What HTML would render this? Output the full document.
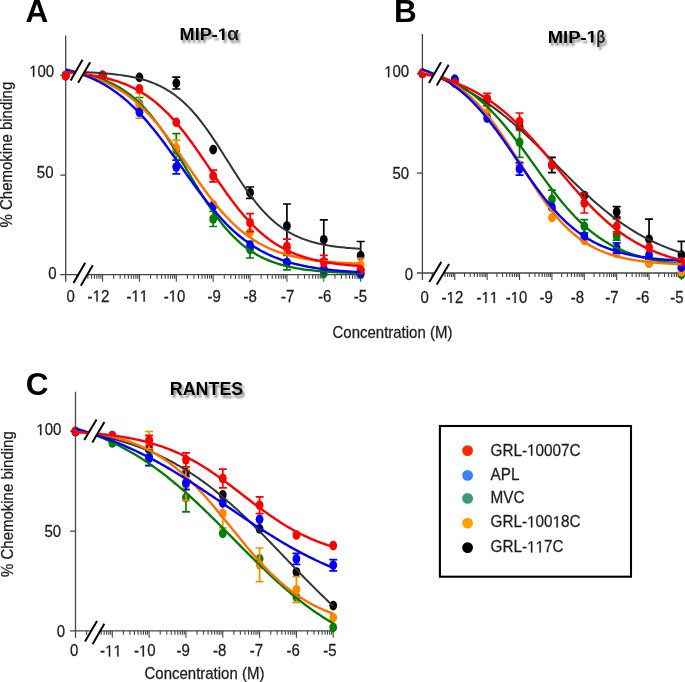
<!DOCTYPE html>
<html><head><meta charset="utf-8"><style>
html,body{margin:0;padding:0;background:#fff;}
svg{display:block;will-change:transform;}
text{font-family:"Liberation Sans",sans-serif;fill:#1e1e1e;}
.tl,.lg,.ax{stroke:#1e1e1e;stroke-width:0.25px;}
.o1 path{fill:#1e1e1e;stroke:#1e1e1e;stroke-width:0.25px;vector-effect:non-scaling-stroke;}
.o1b path{fill:#000;}
.tl{font-size:15px;}
.lg{font-size:15.3px;}
.pl{font-size:31.5px;font-weight:bold;fill:#000;}
.ti{font-size:16.8px;font-weight:bold;fill:#000;}
.ax{font-size:15px;}
</style></head><body>
<svg width="685" height="682" viewBox="0 0 685 682">
<defs><filter id="sh" x="-10%" y="-30%" width="130%" height="170%"><feGaussianBlur in="SourceAlpha" stdDeviation="0.9"/><feOffset dx="1.5" dy="2.5" result="b"/><feFlood flood-color="#000" flood-opacity="0.45"/><feComposite in2="b" operator="in"/><feMerge><feMergeNode/><feMergeNode in="SourceGraphic"/></feMerge></filter></defs>
<rect width="685" height="682" fill="#fff"/>
<path d="M65.7,35.5V281.7M60.2,274.7H360.9" stroke="#464646" stroke-width="1.3" fill="none"/>
<path d="M60.2,75.3h5.5M60.2,175.2h5.5" stroke="#464646" stroke-width="1.3"/>
<path d="M76.80,274.7v4.0M83.29,274.7v4.0M87.90,274.7v4.0M91.47,274.7v4.0M94.39,274.7v4.0M96.86,274.7v4.0M99.00,274.7v4.0M100.88,274.7v4.0M102.57,274.7v7.0M113.67,274.7v4.0M120.16,274.7v4.0M124.77,274.7v4.0M128.34,274.7v4.0M131.26,274.7v4.0M133.73,274.7v4.0M135.87,274.7v4.0M137.75,274.7v4.0M139.44,274.7v7.0M150.54,274.7v4.0M157.03,274.7v4.0M161.64,274.7v4.0M165.21,274.7v4.0M168.13,274.7v4.0M170.60,274.7v4.0M172.74,274.7v4.0M174.62,274.7v4.0M176.31,274.7v7.0M187.41,274.7v4.0M193.90,274.7v4.0M198.51,274.7v4.0M202.08,274.7v4.0M205.00,274.7v4.0M207.47,274.7v4.0M209.61,274.7v4.0M211.49,274.7v4.0M213.18,274.7v7.0M224.28,274.7v4.0M230.77,274.7v4.0M235.38,274.7v4.0M238.95,274.7v4.0M241.87,274.7v4.0M244.34,274.7v4.0M246.48,274.7v4.0M248.36,274.7v4.0M250.05,274.7v7.0M261.15,274.7v4.0M267.64,274.7v4.0M272.25,274.7v4.0M275.82,274.7v4.0M278.74,274.7v4.0M281.21,274.7v4.0M283.35,274.7v4.0M285.23,274.7v4.0M286.92,274.7v7.0M298.02,274.7v4.0M304.51,274.7v4.0M309.12,274.7v4.0M312.69,274.7v4.0M315.61,274.7v4.0M318.08,274.7v4.0M320.22,274.7v4.0M322.10,274.7v4.0M323.79,274.7v7.0M334.89,274.7v4.0M341.38,274.7v4.0M345.99,274.7v4.0M349.56,274.7v4.0M352.48,274.7v4.0M354.95,274.7v4.0M357.09,274.7v4.0M358.97,274.7v4.0M360.66,274.7v7.0" stroke="#464646" stroke-width="1.1" fill="none"/>
<ellipse cx="65.70" cy="75.60" rx="3.9" ry="4.8" fill="#000000"/>
<ellipse cx="102.57" cy="75.40" rx="3.9" ry="4.8" fill="#000000"/>
<ellipse cx="139.44" cy="77.40" rx="3.9" ry="4.8" fill="#000000"/>
<path d="M176.31,77.20V89.00M172.31,77.20h8M172.31,89.00h8" stroke="#000000" stroke-width="1.7" fill="none"/>
<ellipse cx="176.31" cy="83.10" rx="3.9" ry="4.8" fill="#000000"/>
<ellipse cx="213.18" cy="149.60" rx="3.9" ry="4.8" fill="#000000"/>
<path d="M250.05,187.00V198.40M246.05,187.00h8M246.05,198.40h8" stroke="#000000" stroke-width="1.7" fill="none"/>
<ellipse cx="250.05" cy="192.70" rx="3.9" ry="4.8" fill="#000000"/>
<path d="M286.92,204.00V248.00M282.92,204.00h8M282.92,248.00h8" stroke="#000000" stroke-width="1.7" fill="none"/>
<ellipse cx="286.92" cy="226.00" rx="3.9" ry="4.8" fill="#000000"/>
<path d="M323.79,219.90V259.50M319.79,219.90h8M319.79,259.50h8" stroke="#000000" stroke-width="1.7" fill="none"/>
<ellipse cx="323.79" cy="239.70" rx="3.9" ry="4.8" fill="#000000"/>
<path d="M360.66,241.50V269.70M356.66,241.50h8M356.66,269.70h8" stroke="#000000" stroke-width="1.7" fill="none"/>
<ellipse cx="360.66" cy="255.60" rx="3.9" ry="4.8" fill="#000000"/>
<ellipse cx="65.70" cy="75.60" rx="3.9" ry="4.8" fill="#008000"/>
<ellipse cx="102.57" cy="76.00" rx="3.9" ry="4.8" fill="#008000"/>
<path d="M139.44,97.50V110.50M135.44,97.50h8M135.44,110.50h8" stroke="#008000" stroke-width="1.7" fill="none"/>
<ellipse cx="139.44" cy="104.00" rx="3.9" ry="4.8" fill="#008000"/>
<path d="M176.31,133.70V166.30M172.31,133.70h8M172.31,166.30h8" stroke="#008000" stroke-width="1.7" fill="none"/>
<ellipse cx="176.31" cy="150.00" rx="3.9" ry="4.8" fill="#008000"/>
<path d="M213.18,211.50V226.50M209.18,211.50h8M209.18,226.50h8" stroke="#008000" stroke-width="1.7" fill="none"/>
<ellipse cx="213.18" cy="219.00" rx="3.9" ry="4.8" fill="#008000"/>
<path d="M250.05,241.00V258.00M246.05,241.00h8M246.05,258.00h8" stroke="#008000" stroke-width="1.7" fill="none"/>
<ellipse cx="250.05" cy="249.50" rx="3.9" ry="4.8" fill="#008000"/>
<path d="M286.92,255.40V269.80M282.92,255.40h8M282.92,269.80h8" stroke="#008000" stroke-width="1.7" fill="none"/>
<ellipse cx="286.92" cy="262.60" rx="3.9" ry="4.8" fill="#008000"/>
<ellipse cx="323.79" cy="273.50" rx="3.9" ry="4.8" fill="#008000"/>
<ellipse cx="360.66" cy="274.50" rx="3.9" ry="4.8" fill="#008000"/>
<ellipse cx="65.70" cy="75.60" rx="3.9" ry="4.8" fill="#ff8c00"/>
<ellipse cx="102.57" cy="76.00" rx="3.9" ry="4.8" fill="#ff8c00"/>
<path d="M139.44,92.85V118.15M135.44,92.85h8M135.44,118.15h8" stroke="#ff8c00" stroke-width="1.7" fill="none"/>
<ellipse cx="139.44" cy="105.50" rx="3.9" ry="4.8" fill="#ff8c00"/>
<path d="M176.31,140.10V155.70M172.31,140.10h8M172.31,155.70h8" stroke="#ff8c00" stroke-width="1.7" fill="none"/>
<ellipse cx="176.31" cy="147.90" rx="3.9" ry="4.8" fill="#ff8c00"/>
<ellipse cx="213.18" cy="204.50" rx="3.9" ry="4.8" fill="#ff8c00"/>
<ellipse cx="250.05" cy="232.30" rx="3.9" ry="4.8" fill="#ff8c00"/>
<ellipse cx="286.92" cy="250.00" rx="3.9" ry="4.8" fill="#ff8c00"/>
<ellipse cx="323.79" cy="264.00" rx="3.9" ry="4.8" fill="#ff8c00"/>
<path d="M360.66,258.30V271.30M356.66,258.30h8M356.66,271.30h8" stroke="#ff8c00" stroke-width="1.7" fill="none"/>
<ellipse cx="360.66" cy="264.80" rx="3.9" ry="4.8" fill="#ff8c00"/>
<ellipse cx="65.70" cy="75.60" rx="3.9" ry="4.8" fill="#0000ff"/>
<ellipse cx="102.57" cy="76.00" rx="3.9" ry="4.8" fill="#0000ff"/>
<ellipse cx="139.44" cy="112.30" rx="3.9" ry="4.8" fill="#0000ff"/>
<path d="M176.31,160.20V173.80M172.31,160.20h8M172.31,173.80h8" stroke="#0000ff" stroke-width="1.7" fill="none"/>
<ellipse cx="176.31" cy="167.00" rx="3.9" ry="4.8" fill="#0000ff"/>
<ellipse cx="213.18" cy="206.20" rx="3.9" ry="4.8" fill="#0000ff"/>
<ellipse cx="250.05" cy="245.50" rx="3.9" ry="4.8" fill="#0000ff"/>
<ellipse cx="286.92" cy="262.50" rx="3.9" ry="4.8" fill="#0000ff"/>
<ellipse cx="323.79" cy="269.50" rx="3.9" ry="4.8" fill="#0000ff"/>
<ellipse cx="360.66" cy="273.30" rx="3.9" ry="4.8" fill="#0000ff"/>
<ellipse cx="65.70" cy="75.60" rx="3.9" ry="4.8" fill="#ff0000"/>
<ellipse cx="102.57" cy="75.20" rx="3.9" ry="4.8" fill="#ff0000"/>
<ellipse cx="139.44" cy="88.90" rx="3.9" ry="4.8" fill="#ff0000"/>
<ellipse cx="176.31" cy="122.30" rx="3.9" ry="4.8" fill="#ff0000"/>
<path d="M213.18,170.20V181.80M209.18,170.20h8M209.18,181.80h8" stroke="#ff0000" stroke-width="1.7" fill="none"/>
<ellipse cx="213.18" cy="176.00" rx="3.9" ry="4.8" fill="#ff0000"/>
<path d="M250.05,213.70V231.70M246.05,213.70h8M246.05,231.70h8" stroke="#ff0000" stroke-width="1.7" fill="none"/>
<ellipse cx="250.05" cy="222.70" rx="3.9" ry="4.8" fill="#ff0000"/>
<path d="M286.92,239.10V253.70M282.92,239.10h8M282.92,253.70h8" stroke="#ff0000" stroke-width="1.7" fill="none"/>
<ellipse cx="286.92" cy="246.40" rx="3.9" ry="4.8" fill="#ff0000"/>
<path d="M323.79,255.30V268.30M319.79,255.30h8M319.79,268.30h8" stroke="#ff0000" stroke-width="1.7" fill="none"/>
<ellipse cx="323.79" cy="261.80" rx="3.9" ry="4.8" fill="#ff0000"/>
<ellipse cx="360.66" cy="270.00" rx="3.9" ry="4.8" fill="#ff0000"/>
<path d="M65.70,71.66 L67.56,71.70 L69.41,71.74 L71.27,71.78 L73.12,71.83 L74.98,71.88 L76.83,71.93 L78.69,71.99 L80.54,72.05 L82.40,72.12 L84.25,72.19 L86.11,72.26 L87.96,72.34 L89.82,72.43 L91.67,72.52 L93.53,72.61 L95.38,72.72 L97.24,72.83 L99.09,72.94 L100.95,73.07 L102.80,73.20 L104.66,73.34 L106.51,73.50 L108.37,73.66 L110.22,73.83 L112.08,74.01 L113.93,74.21 L115.79,74.42 L117.64,74.64 L119.50,74.88 L121.35,75.13 L123.21,75.40 L125.06,75.69 L126.92,75.99 L128.77,76.31 L130.63,76.66 L132.48,77.03 L134.34,77.42 L136.19,77.83 L138.05,78.27 L139.90,78.74 L141.76,79.24 L143.61,79.77 L145.47,80.33 L147.32,80.92 L149.18,81.55 L151.03,82.22 L152.89,82.93 L154.74,83.68 L156.60,84.48 L158.45,85.32 L160.31,86.20 L162.16,87.14 L164.02,88.13 L165.88,89.17 L167.73,90.27 L169.59,91.43 L171.44,92.65 L173.30,93.93 L175.15,95.28 L177.01,96.69 L178.86,98.17 L180.72,99.72 L182.57,101.34 L184.43,103.03 L186.28,104.80 L188.14,106.64 L189.99,108.56 L191.85,110.55 L193.70,112.61 L195.56,114.75 L197.41,116.96 L199.27,119.25 L201.12,121.60 L202.98,124.03 L204.83,126.52 L206.69,129.07 L208.54,131.69 L210.40,134.36 L212.25,137.08 L214.11,139.85 L215.96,142.66 L217.82,145.52 L219.67,148.40 L221.53,151.31 L223.38,154.24 L225.24,157.18 L227.09,160.13 L228.95,163.08 L230.80,166.03 L232.66,168.96 L234.51,171.88 L236.37,174.78 L238.22,177.64 L240.08,180.47 L241.93,183.26 L243.79,186.00 L245.64,188.69 L247.50,191.33 L249.35,193.91 L251.21,196.42 L253.06,198.87 L254.92,201.26 L256.77,203.57 L258.63,205.81 L260.48,207.98 L262.34,210.08 L264.20,212.10 L266.05,214.04 L267.91,215.91 L269.76,217.71 L271.62,219.43 L273.47,221.08 L275.33,222.66 L277.18,224.17 L279.04,225.61 L280.89,226.98 L282.75,228.28 L284.60,229.53 L286.46,230.71 L288.31,231.83 L290.17,232.90 L292.02,233.91 L293.88,234.87 L295.73,235.78 L297.59,236.63 L299.44,237.45 L301.30,238.21 L303.15,238.94 L305.01,239.62 L306.86,240.27 L308.72,240.88 L310.57,241.45 L312.43,241.99 L314.28,242.50 L316.14,242.98 L317.99,243.43 L319.85,243.86 L321.70,244.26 L323.56,244.64 L325.41,244.99 L327.27,245.32 L329.12,245.63 L330.98,245.93 L332.83,246.20 L334.69,246.46 L336.54,246.71 L338.40,246.93 L340.25,247.15 L342.11,247.35 L343.96,247.54 L345.82,247.71 L347.67,247.88 L349.53,248.04 L351.38,248.18 L353.24,248.32 L355.09,248.45 L356.95,248.57 L358.80,248.68 L360.66,248.79" fill="none" stroke="#333333" stroke-width="2.0"/>
<path d="M65.70,71.33 L67.56,71.56 L69.41,71.80 L71.27,72.06 L73.12,72.33 L74.98,72.62 L76.83,72.93 L78.69,73.25 L80.54,73.60 L82.40,73.96 L84.25,74.35 L86.11,74.75 L87.96,75.19 L89.82,75.64 L91.67,76.13 L93.53,76.64 L95.38,77.18 L97.24,77.75 L99.09,78.35 L100.95,78.99 L102.80,79.66 L104.66,80.37 L106.51,81.12 L108.37,81.91 L110.22,82.75 L112.08,83.62 L113.93,84.55 L115.79,85.52 L117.64,86.54 L119.50,87.61 L121.35,88.74 L123.21,89.93 L125.06,91.17 L126.92,92.47 L128.77,93.83 L130.63,95.26 L132.48,96.75 L134.34,98.31 L136.19,99.94 L138.05,101.64 L139.90,103.40 L141.76,105.24 L143.61,107.16 L145.47,109.14 L147.32,111.20 L149.18,113.33 L151.03,115.54 L152.89,117.82 L154.74,120.17 L156.60,122.59 L158.45,125.09 L160.31,127.65 L162.16,130.28 L164.02,132.97 L165.88,135.72 L167.73,138.53 L169.59,141.39 L171.44,144.30 L173.30,147.26 L175.15,150.26 L177.01,153.30 L178.86,156.37 L180.72,159.46 L182.57,162.58 L184.43,165.71 L186.28,168.85 L188.14,171.99 L189.99,175.13 L191.85,178.26 L193.70,181.38 L195.56,184.48 L197.41,187.55 L199.27,190.60 L201.12,193.60 L202.98,196.57 L204.83,199.49 L206.69,202.36 L208.54,205.18 L210.40,207.94 L212.25,210.65 L214.11,213.28 L215.96,215.86 L217.82,218.36 L219.67,220.80 L221.53,223.16 L223.38,225.45 L225.24,227.67 L227.09,229.82 L228.95,231.89 L230.80,233.89 L232.66,235.81 L234.51,237.67 L236.37,239.45 L238.22,241.15 L240.08,242.79 L241.93,244.36 L243.79,245.87 L245.64,247.31 L247.50,248.68 L249.35,249.99 L251.21,251.25 L253.06,252.44 L254.92,253.58 L256.77,254.66 L258.63,255.69 L260.48,256.67 L262.34,257.61 L264.20,258.49 L266.05,259.33 L267.91,260.13 L269.76,260.88 L271.62,261.60 L273.47,262.28 L275.33,262.92 L277.18,263.53 L279.04,264.11 L280.89,264.65 L282.75,265.17 L284.60,265.66 L286.46,266.12 L288.31,266.56 L290.17,266.97 L292.02,267.36 L293.88,267.73 L295.73,268.07 L297.59,268.40 L299.44,268.71 L301.30,269.00 L303.15,269.28 L305.01,269.54 L306.86,269.78 L308.72,270.01 L310.57,270.23 L312.43,270.44 L314.28,270.63 L316.14,270.81 L317.99,270.98 L319.85,271.15 L321.70,271.30 L323.56,271.44 L325.41,271.58 L327.27,271.71 L329.12,271.83 L330.98,271.94 L332.83,272.05 L334.69,272.15 L336.54,272.24 L338.40,272.33 L340.25,272.41 L342.11,272.49 L343.96,272.57 L345.82,272.64 L347.67,272.70 L349.53,272.77 L351.38,272.82 L353.24,272.88 L355.09,272.93 L356.95,272.98 L358.80,273.03 L360.66,273.07" fill="none" stroke="#007a00" stroke-width="2.3"/>
<path d="M65.70,71.46 L67.56,71.76 L69.41,72.07 L71.27,72.40 L73.12,72.74 L74.98,73.10 L76.83,73.48 L78.69,73.89 L80.54,74.31 L82.40,74.75 L84.25,75.22 L86.11,75.71 L87.96,76.22 L89.82,76.76 L91.67,77.33 L93.53,77.92 L95.38,78.54 L97.24,79.20 L99.09,79.88 L100.95,80.60 L102.80,81.35 L104.66,82.14 L106.51,82.97 L108.37,83.83 L110.22,84.73 L112.08,85.68 L113.93,86.66 L115.79,87.69 L117.64,88.76 L119.50,89.88 L121.35,91.05 L123.21,92.26 L125.06,93.52 L126.92,94.84 L128.77,96.21 L130.63,97.63 L132.48,99.10 L134.34,100.63 L136.19,102.21 L138.05,103.85 L139.90,105.54 L141.76,107.29 L143.61,109.10 L145.47,110.96 L147.32,112.88 L149.18,114.86 L151.03,116.89 L152.89,118.98 L154.74,121.12 L156.60,123.31 L158.45,125.55 L160.31,127.85 L162.16,130.19 L164.02,132.57 L165.88,135.00 L167.73,137.47 L169.59,139.98 L171.44,142.53 L173.30,145.10 L175.15,147.71 L177.01,150.34 L178.86,152.99 L180.72,155.66 L182.57,158.34 L184.43,161.04 L186.28,163.74 L188.14,166.44 L189.99,169.15 L191.85,171.84 L193.70,174.53 L195.56,177.21 L197.41,179.86 L199.27,182.50 L201.12,185.11 L202.98,187.70 L204.83,190.25 L206.69,192.77 L208.54,195.25 L210.40,197.69 L212.25,200.09 L214.11,202.44 L215.96,204.75 L217.82,207.01 L219.67,209.22 L221.53,211.37 L223.38,213.47 L225.24,215.52 L227.09,217.51 L228.95,219.45 L230.80,221.33 L232.66,223.15 L234.51,224.92 L236.37,226.63 L238.22,228.28 L240.08,229.88 L241.93,231.42 L243.79,232.91 L245.64,234.34 L247.50,235.73 L249.35,237.05 L251.21,238.33 L253.06,239.56 L254.92,240.74 L256.77,241.87 L258.63,242.96 L260.48,244.00 L262.34,245.00 L264.20,245.95 L266.05,246.86 L267.91,247.74 L269.76,248.57 L271.62,249.37 L273.47,250.13 L275.33,250.86 L277.18,251.56 L279.04,252.22 L280.89,252.85 L282.75,253.45 L284.60,254.03 L286.46,254.57 L288.31,255.10 L290.17,255.59 L292.02,256.06 L293.88,256.51 L295.73,256.94 L297.59,257.35 L299.44,257.74 L301.30,258.10 L303.15,258.45 L305.01,258.79 L306.86,259.10 L308.72,259.40 L310.57,259.69 L312.43,259.96 L314.28,260.21 L316.14,260.46 L317.99,260.69 L319.85,260.91 L321.70,261.12 L323.56,261.32 L325.41,261.51 L327.27,261.68 L329.12,261.85 L330.98,262.01 L332.83,262.17 L334.69,262.31 L336.54,262.45 L338.40,262.58 L340.25,262.70 L342.11,262.82 L343.96,262.93 L345.82,263.03 L347.67,263.13 L349.53,263.23 L351.38,263.32 L353.24,263.40 L355.09,263.48 L356.95,263.56 L358.80,263.63 L360.66,263.70" fill="none" stroke="#ff6f00" stroke-width="2.4"/>
<path d="M65.70,69.55 L67.56,70.01 L69.41,70.49 L71.27,70.99 L73.12,71.52 L74.98,72.07 L76.83,72.64 L78.69,73.24 L80.54,73.86 L82.40,74.52 L84.25,75.20 L86.11,75.91 L87.96,76.65 L89.82,77.42 L91.67,78.22 L93.53,79.06 L95.38,79.93 L97.24,80.83 L99.09,81.78 L100.95,82.76 L102.80,83.78 L104.66,84.83 L106.51,85.93 L108.37,87.07 L110.22,88.26 L112.08,89.48 L113.93,90.75 L115.79,92.07 L117.64,93.43 L119.50,94.84 L121.35,96.29 L123.21,97.80 L125.06,99.35 L126.92,100.95 L128.77,102.60 L130.63,104.30 L132.48,106.05 L134.34,107.85 L136.19,109.70 L138.05,111.59 L139.90,113.54 L141.76,115.53 L143.61,117.57 L145.47,119.66 L147.32,121.79 L149.18,123.97 L151.03,126.19 L152.89,128.46 L154.74,130.76 L156.60,133.10 L158.45,135.48 L160.31,137.89 L162.16,140.34 L164.02,142.81 L165.88,145.32 L167.73,147.84 L169.59,150.40 L171.44,152.96 L173.30,155.55 L175.15,158.15 L177.01,160.76 L178.86,163.38 L180.72,166.00 L182.57,168.62 L184.43,171.24 L186.28,173.86 L188.14,176.47 L189.99,179.07 L191.85,181.65 L193.70,184.21 L195.56,186.76 L197.41,189.28 L199.27,191.78 L201.12,194.24 L202.98,196.68 L204.83,199.08 L206.69,201.45 L208.54,203.79 L210.40,206.08 L212.25,208.33 L214.11,210.54 L215.96,212.71 L217.82,214.83 L219.67,216.91 L221.53,218.94 L223.38,220.92 L225.24,222.85 L227.09,224.73 L228.95,226.57 L230.80,228.35 L232.66,230.09 L234.51,231.78 L236.37,233.41 L238.22,235.00 L240.08,236.54 L241.93,238.03 L243.79,239.48 L245.64,240.87 L247.50,242.22 L249.35,243.53 L251.21,244.78 L253.06,246.00 L254.92,247.17 L256.77,248.30 L258.63,249.39 L260.48,250.44 L262.34,251.45 L264.20,252.42 L266.05,253.35 L267.91,254.25 L269.76,255.11 L271.62,255.94 L273.47,256.73 L275.33,257.49 L277.18,258.23 L279.04,258.93 L280.89,259.60 L282.75,260.25 L284.60,260.86 L286.46,261.46 L288.31,262.02 L290.17,262.57 L292.02,263.09 L293.88,263.58 L295.73,264.06 L297.59,264.51 L299.44,264.95 L301.30,265.36 L303.15,265.76 L305.01,266.14 L306.86,266.51 L308.72,266.85 L310.57,267.18 L312.43,267.50 L314.28,267.80 L316.14,268.09 L317.99,268.37 L319.85,268.63 L321.70,268.88 L323.56,269.12 L325.41,269.35 L327.27,269.57 L329.12,269.78 L330.98,269.98 L332.83,270.17 L334.69,270.35 L336.54,270.52 L338.40,270.68 L340.25,270.84 L342.11,270.99 L343.96,271.13 L345.82,271.27 L347.67,271.40 L349.53,271.52 L351.38,271.64 L353.24,271.75 L355.09,271.86 L356.95,271.96 L358.80,272.06 L360.66,272.15" fill="none" stroke="#0000ff" stroke-width="2.4"/>
<path d="M65.70,72.27 L67.56,72.41 L69.41,72.57 L71.27,72.73 L73.12,72.91 L74.98,73.09 L76.83,73.28 L78.69,73.49 L80.54,73.70 L82.40,73.93 L84.25,74.17 L86.11,74.42 L87.96,74.68 L89.82,74.96 L91.67,75.26 L93.53,75.57 L95.38,75.90 L97.24,76.24 L99.09,76.60 L100.95,76.99 L102.80,77.39 L104.66,77.81 L106.51,78.26 L108.37,78.73 L110.22,79.22 L112.08,79.74 L113.93,80.29 L115.79,80.86 L117.64,81.46 L119.50,82.09 L121.35,82.76 L123.21,83.45 L125.06,84.18 L126.92,84.95 L128.77,85.75 L130.63,86.59 L132.48,87.48 L134.34,88.40 L136.19,89.36 L138.05,90.37 L139.90,91.42 L141.76,92.52 L143.61,93.67 L145.47,94.87 L147.32,96.11 L149.18,97.41 L151.03,98.77 L152.89,100.17 L154.74,101.64 L156.60,103.15 L158.45,104.73 L160.31,106.36 L162.16,108.05 L164.02,109.80 L165.88,111.61 L167.73,113.47 L169.59,115.40 L171.44,117.38 L173.30,119.42 L175.15,121.52 L177.01,123.68 L178.86,125.89 L180.72,128.15 L182.57,130.47 L184.43,132.84 L186.28,135.25 L188.14,137.71 L189.99,140.22 L191.85,142.76 L193.70,145.35 L195.56,147.96 L197.41,150.61 L199.27,153.29 L201.12,155.98 L202.98,158.70 L204.83,161.44 L206.69,164.18 L208.54,166.93 L210.40,169.69 L212.25,172.44 L214.11,175.19 L215.96,177.93 L217.82,180.66 L219.67,183.36 L221.53,186.05 L223.38,188.71 L225.24,191.34 L227.09,193.94 L228.95,196.50 L230.80,199.03 L232.66,201.51 L234.51,203.94 L236.37,206.33 L238.22,208.67 L240.08,210.96 L241.93,213.19 L243.79,215.37 L245.64,217.50 L247.50,219.57 L249.35,221.58 L251.21,223.53 L253.06,225.42 L254.92,227.26 L256.77,229.03 L258.63,230.75 L260.48,232.41 L262.34,234.01 L264.20,235.55 L266.05,237.04 L267.91,238.47 L269.76,239.84 L271.62,241.17 L273.47,242.44 L275.33,243.66 L277.18,244.83 L279.04,245.95 L280.89,247.02 L282.75,248.05 L284.60,249.03 L286.46,249.97 L288.31,250.87 L290.17,251.73 L292.02,252.55 L293.88,253.33 L295.73,254.08 L297.59,254.79 L299.44,255.47 L301.30,256.12 L303.15,256.73 L305.01,257.32 L306.86,257.87 L308.72,258.40 L310.57,258.91 L312.43,259.39 L314.28,259.85 L316.14,260.28 L317.99,260.69 L319.85,261.08 L321.70,261.45 L323.56,261.81 L325.41,262.14 L327.27,262.46 L329.12,262.76 L330.98,263.05 L332.83,263.32 L334.69,263.58 L336.54,263.82 L338.40,264.06 L340.25,264.28 L342.11,264.48 L343.96,264.68 L345.82,264.87 L347.67,265.05 L349.53,265.22 L351.38,265.37 L353.24,265.53 L355.09,265.67 L356.95,265.80 L358.80,265.93 L360.66,266.05" fill="none" stroke="#ff0000" stroke-width="2.4"/>
<polygon points="70.7,80.5 82.5,59.7 90.2,62.3 78.1,82.8" fill="#fff"/>
<line x1="70.7" y1="80.5" x2="82.5" y2="59.7" stroke="#000" stroke-width="2"/>
<line x1="78.1" y1="82.8" x2="90.2" y2="62.3" stroke="#000" stroke-width="2"/>
<polygon points="73.5,283.1 85.2,262.7 92.8,265.2 80.8,285.7" fill="#fff"/>
<line x1="73.5" y1="283.1" x2="85.2" y2="262.7" stroke="#000" stroke-width="2"/>
<line x1="80.8" y1="285.7" x2="92.8" y2="265.2" stroke="#000" stroke-width="2"/>
<text transform="translate(66.6,301.5) scale(1,1.06)" class="tl">0</text>
<text transform="translate(87.6,301.5) scale(1,1.06)" class="tl">- 2</text><g class="o1" transform="translate(87.6,301.5) scale(1,1.06)"><path d="M696,0L515,0L515,1237L197,1010L197,1180L530,1409L696,1409Z" transform="translate(4.99,0.00) scale(0.00732,-0.00732)"/></g>
<text transform="translate(126.4,301.5) scale(1,1.06)" class="tl">-  </text><g class="o1" transform="translate(126.4,301.5) scale(1,1.06)"><path d="M696,0L515,0L515,1237L197,1010L197,1180L530,1409L696,1409Z" transform="translate(4.99,0.00) scale(0.00732,-0.00732)"/><path d="M696,0L515,0L515,1237L197,1010L197,1180L530,1409L696,1409Z" transform="translate(13.31,0.00) scale(0.00732,-0.00732)"/></g>
<text transform="translate(163.7,301.5) scale(1,1.06)" class="tl">- 0</text><g class="o1" transform="translate(163.7,301.5) scale(1,1.06)"><path d="M696,0L515,0L515,1237L197,1010L197,1180L530,1409L696,1409Z" transform="translate(4.99,0.00) scale(0.00732,-0.00732)"/></g>
<text transform="translate(207.5,301.5) scale(1,1.06)" class="tl">-9</text>
<text transform="translate(243.4,301.5) scale(1,1.06)" class="tl">-8</text>
<text transform="translate(281.1,301.5) scale(1,1.06)" class="tl">-7</text>
<text transform="translate(317.9,301.5) scale(1,1.06)" class="tl">-6</text>
<text transform="translate(353.7,301.5) scale(1,1.06)" class="tl">-5</text>
<text transform="translate(54.2,76.8) scale(1,1.06)" class="tl" text-anchor="end"> 00</text><g class="o1" transform="translate(54.2,76.8) scale(1,1.06)"><path d="M696,0L515,0L515,1237L197,1010L197,1180L530,1409L696,1409Z" transform="translate(-25.00,0.00) scale(0.00732,-0.00732)"/></g>
<text transform="translate(53.5,178.4) scale(1,1.06)" class="tl" text-anchor="end">50</text>
<text transform="translate(56.5,278.8) scale(1,1.06)" class="tl" text-anchor="end">0</text>
<path d="M422.4,33.9V280.0M416.9,273.0H681.8" stroke="#464646" stroke-width="1.3" fill="none"/>
<path d="M416.9,73.5h5.5M416.9,173.2h5.5" stroke="#464646" stroke-width="1.3"/>
<path d="M432.15,273.0v4.0M437.85,273.0v4.0M441.89,273.0v4.0M445.03,273.0v4.0M447.60,273.0v4.0M449.76,273.0v4.0M451.64,273.0v4.0M453.30,273.0v4.0M454.78,273.0v7.0M464.53,273.0v4.0M470.23,273.0v4.0M474.27,273.0v4.0M477.41,273.0v4.0M479.98,273.0v4.0M482.14,273.0v4.0M484.02,273.0v4.0M485.68,273.0v4.0M487.16,273.0v7.0M496.91,273.0v4.0M502.61,273.0v4.0M506.65,273.0v4.0M509.79,273.0v4.0M512.36,273.0v4.0M514.52,273.0v4.0M516.40,273.0v4.0M518.06,273.0v4.0M519.54,273.0v7.0M529.29,273.0v4.0M534.99,273.0v4.0M539.03,273.0v4.0M542.17,273.0v4.0M544.74,273.0v4.0M546.90,273.0v4.0M548.78,273.0v4.0M550.44,273.0v4.0M551.92,273.0v7.0M561.67,273.0v4.0M567.37,273.0v4.0M571.41,273.0v4.0M574.55,273.0v4.0M577.12,273.0v4.0M579.28,273.0v4.0M581.16,273.0v4.0M582.82,273.0v4.0M584.30,273.0v7.0M594.05,273.0v4.0M599.75,273.0v4.0M603.79,273.0v4.0M606.93,273.0v4.0M609.50,273.0v4.0M611.66,273.0v4.0M613.54,273.0v4.0M615.20,273.0v4.0M616.68,273.0v7.0M626.43,273.0v4.0M632.13,273.0v4.0M636.17,273.0v4.0M639.31,273.0v4.0M641.88,273.0v4.0M644.04,273.0v4.0M645.92,273.0v4.0M647.58,273.0v4.0M649.06,273.0v7.0M658.81,273.0v4.0M664.51,273.0v4.0M668.55,273.0v4.0M671.69,273.0v4.0M674.26,273.0v4.0M676.42,273.0v4.0M678.30,273.0v4.0M679.96,273.0v4.0M681.44,273.0v7.0" stroke="#464646" stroke-width="1.1" fill="none"/>
<ellipse cx="422.40" cy="73.40" rx="3.9" ry="4.8" fill="#000000"/>
<ellipse cx="454.78" cy="82.00" rx="3.9" ry="4.8" fill="#000000"/>
<ellipse cx="487.16" cy="99.00" rx="3.9" ry="4.8" fill="#000000"/>
<ellipse cx="519.54" cy="126.70" rx="3.9" ry="4.8" fill="#000000"/>
<path d="M551.92,157.40V172.60M547.92,157.40h8M547.92,172.60h8" stroke="#000000" stroke-width="1.7" fill="none"/>
<ellipse cx="551.92" cy="165.00" rx="3.9" ry="4.8" fill="#000000"/>
<ellipse cx="584.30" cy="195.50" rx="3.9" ry="4.8" fill="#000000"/>
<path d="M616.68,206.60V217.20M612.68,206.60h8M612.68,217.20h8" stroke="#000000" stroke-width="1.7" fill="none"/>
<ellipse cx="616.68" cy="211.90" rx="3.9" ry="4.8" fill="#000000"/>
<path d="M649.06,219.20V259.20M645.06,219.20h8M645.06,259.20h8" stroke="#000000" stroke-width="1.7" fill="none"/>
<ellipse cx="649.06" cy="239.20" rx="3.9" ry="4.8" fill="#000000"/>
<path d="M681.44,241.30V268.70M677.44,241.30h8M677.44,268.70h8" stroke="#000000" stroke-width="1.7" fill="none"/>
<ellipse cx="681.44" cy="255.00" rx="3.9" ry="4.8" fill="#000000"/>
<ellipse cx="422.40" cy="73.40" rx="3.9" ry="4.8" fill="#008000"/>
<ellipse cx="454.78" cy="79.10" rx="3.9" ry="4.8" fill="#008000"/>
<ellipse cx="487.16" cy="99.50" rx="3.9" ry="4.8" fill="#008000"/>
<path d="M519.54,127.40V157.40M515.54,127.40h8M515.54,157.40h8" stroke="#008000" stroke-width="1.7" fill="none"/>
<ellipse cx="519.54" cy="142.40" rx="3.9" ry="4.8" fill="#008000"/>
<path d="M551.92,190.10V208.90M547.92,190.10h8M547.92,208.90h8" stroke="#008000" stroke-width="1.7" fill="none"/>
<ellipse cx="551.92" cy="199.50" rx="3.9" ry="4.8" fill="#008000"/>
<path d="M584.30,219.60V232.80M580.30,219.60h8M580.30,232.80h8" stroke="#008000" stroke-width="1.7" fill="none"/>
<ellipse cx="584.30" cy="226.20" rx="3.9" ry="4.8" fill="#008000"/>
<path d="M616.68,231.80V240.20M612.68,231.80h8M612.68,240.20h8" stroke="#008000" stroke-width="1.7" fill="none"/>
<ellipse cx="616.68" cy="236.00" rx="3.9" ry="4.8" fill="#008000"/>
<ellipse cx="649.06" cy="263.00" rx="3.9" ry="4.8" fill="#008000"/>
<ellipse cx="681.44" cy="274.40" rx="3.9" ry="4.8" fill="#008000"/>
<ellipse cx="422.40" cy="73.40" rx="3.9" ry="4.8" fill="#ff8c00"/>
<ellipse cx="454.78" cy="83.00" rx="3.9" ry="4.8" fill="#ff8c00"/>
<ellipse cx="487.16" cy="112.70" rx="3.9" ry="4.8" fill="#ff8c00"/>
<ellipse cx="519.54" cy="165.00" rx="3.9" ry="4.8" fill="#ff8c00"/>
<ellipse cx="551.92" cy="217.70" rx="3.9" ry="4.8" fill="#ff8c00"/>
<ellipse cx="584.30" cy="240.60" rx="3.9" ry="4.8" fill="#ff8c00"/>
<ellipse cx="616.68" cy="253.60" rx="3.9" ry="4.8" fill="#ff8c00"/>
<ellipse cx="649.06" cy="263.00" rx="3.9" ry="4.8" fill="#ff8c00"/>
<ellipse cx="681.44" cy="271.90" rx="3.9" ry="4.8" fill="#ff8c00"/>
<ellipse cx="422.40" cy="73.40" rx="3.9" ry="4.8" fill="#0000ff"/>
<ellipse cx="454.78" cy="79.60" rx="3.9" ry="4.8" fill="#0000ff"/>
<ellipse cx="487.16" cy="118.20" rx="3.9" ry="4.8" fill="#0000ff"/>
<path d="M519.54,162.60V175.20M515.54,162.60h8M515.54,175.20h8" stroke="#0000ff" stroke-width="1.7" fill="none"/>
<ellipse cx="519.54" cy="168.90" rx="3.9" ry="4.8" fill="#0000ff"/>
<ellipse cx="551.92" cy="207.10" rx="3.9" ry="4.8" fill="#0000ff"/>
<ellipse cx="584.30" cy="236.00" rx="3.9" ry="4.8" fill="#0000ff"/>
<path d="M616.68,242.90V253.10M612.68,242.90h8M612.68,253.10h8" stroke="#0000ff" stroke-width="1.7" fill="none"/>
<ellipse cx="616.68" cy="248.00" rx="3.9" ry="4.8" fill="#0000ff"/>
<ellipse cx="649.06" cy="255.00" rx="3.9" ry="4.8" fill="#0000ff"/>
<ellipse cx="681.44" cy="267.10" rx="3.9" ry="4.8" fill="#0000ff"/>
<ellipse cx="422.40" cy="73.40" rx="3.9" ry="4.8" fill="#ff0000"/>
<ellipse cx="454.78" cy="83.00" rx="3.9" ry="4.8" fill="#ff0000"/>
<path d="M487.16,93.40V105.80M483.16,93.40h8M483.16,105.80h8" stroke="#ff0000" stroke-width="1.7" fill="none"/>
<ellipse cx="487.16" cy="99.60" rx="3.9" ry="4.8" fill="#ff0000"/>
<path d="M519.54,113.00V130.00M515.54,113.00h8M515.54,130.00h8" stroke="#ff0000" stroke-width="1.7" fill="none"/>
<ellipse cx="519.54" cy="121.50" rx="3.9" ry="4.8" fill="#ff0000"/>
<ellipse cx="551.92" cy="164.90" rx="3.9" ry="4.8" fill="#ff0000"/>
<path d="M584.30,193.20V213.00M580.30,193.20h8M580.30,213.00h8" stroke="#ff0000" stroke-width="1.7" fill="none"/>
<ellipse cx="584.30" cy="203.10" rx="3.9" ry="4.8" fill="#ff0000"/>
<path d="M616.68,218.90V233.90M612.68,218.90h8M612.68,233.90h8" stroke="#ff0000" stroke-width="1.7" fill="none"/>
<ellipse cx="616.68" cy="226.40" rx="3.9" ry="4.8" fill="#ff0000"/>
<ellipse cx="649.06" cy="247.60" rx="3.9" ry="4.8" fill="#ff0000"/>
<ellipse cx="681.44" cy="261.90" rx="3.9" ry="4.8" fill="#ff0000"/>
<path d="M422.40,72.59 L424.03,73.05 L425.66,73.53 L427.29,74.03 L428.92,74.53 L430.55,75.05 L432.18,75.59 L433.80,76.13 L435.43,76.69 L437.06,77.27 L438.69,77.85 L440.32,78.46 L441.95,79.07 L443.58,79.71 L445.21,80.35 L446.84,81.02 L448.47,81.70 L450.10,82.39 L451.73,83.10 L453.35,83.83 L454.98,84.58 L456.61,85.34 L458.24,86.12 L459.87,86.91 L461.50,87.73 L463.13,88.56 L464.76,89.41 L466.39,90.28 L468.02,91.16 L469.65,92.07 L471.28,92.99 L472.90,93.93 L474.53,94.90 L476.16,95.88 L477.79,96.88 L479.42,97.89 L481.05,98.93 L482.68,99.99 L484.31,101.07 L485.94,102.16 L487.57,103.28 L489.20,104.41 L490.83,105.57 L492.45,106.74 L494.08,107.93 L495.71,109.14 L497.34,110.37 L498.97,111.62 L500.60,112.89 L502.23,114.18 L503.86,115.48 L505.49,116.81 L507.12,118.15 L508.75,119.51 L510.38,120.88 L512.01,122.27 L513.63,123.68 L515.26,125.11 L516.89,126.55 L518.52,128.00 L520.15,129.48 L521.78,130.96 L523.41,132.46 L525.04,133.97 L526.67,135.50 L528.30,137.04 L529.93,138.59 L531.56,140.15 L533.18,141.72 L534.81,143.30 L536.44,144.89 L538.07,146.49 L539.70,148.09 L541.33,149.71 L542.96,151.33 L544.59,152.95 L546.22,154.59 L547.85,156.22 L549.48,157.86 L551.11,159.50 L552.73,161.14 L554.36,162.79 L555.99,164.43 L557.62,166.08 L559.25,167.72 L560.88,169.36 L562.51,171.00 L564.14,172.64 L565.77,174.27 L567.40,175.90 L569.03,177.52 L570.66,179.13 L572.28,180.74 L573.91,182.34 L575.54,183.93 L577.17,185.51 L578.80,187.08 L580.43,188.64 L582.06,190.19 L583.69,191.73 L585.32,193.26 L586.95,194.77 L588.58,196.27 L590.21,197.76 L591.83,199.23 L593.46,200.69 L595.09,202.13 L596.72,203.56 L598.35,204.97 L599.98,206.36 L601.61,207.74 L603.24,209.10 L604.87,210.44 L606.50,211.77 L608.13,213.07 L609.76,214.36 L611.39,215.63 L613.01,216.88 L614.64,218.11 L616.27,219.33 L617.90,220.52 L619.53,221.70 L621.16,222.85 L622.79,223.99 L624.42,225.10 L626.05,226.20 L627.68,227.28 L629.31,228.34 L630.94,229.38 L632.56,230.40 L634.19,231.40 L635.82,232.38 L637.45,233.34 L639.08,234.29 L640.71,235.21 L642.34,236.12 L643.97,237.01 L645.60,237.88 L647.23,238.73 L648.86,239.56 L650.49,240.38 L652.11,241.18 L653.74,241.96 L655.37,242.72 L657.00,243.47 L658.63,244.19 L660.26,244.91 L661.89,245.60 L663.52,246.28 L665.15,246.95 L666.78,247.60 L668.41,248.23 L670.04,248.85 L671.66,249.45 L673.29,250.04 L674.92,250.62 L676.55,251.18 L678.18,251.73 L679.81,252.26 L681.44,252.78" fill="none" stroke="#333333" stroke-width="2.0"/>
<path d="M422.40,70.62 L424.03,71.03 L425.66,71.47 L427.29,71.92 L428.92,72.39 L430.55,72.87 L432.18,73.38 L433.80,73.91 L435.43,74.45 L437.06,75.02 L438.69,75.61 L440.32,76.23 L441.95,76.87 L443.58,77.53 L445.21,78.21 L446.84,78.93 L448.47,79.66 L450.10,80.43 L451.73,81.22 L453.35,82.05 L454.98,82.90 L456.61,83.78 L458.24,84.69 L459.87,85.63 L461.50,86.61 L463.13,87.62 L464.76,88.66 L466.39,89.74 L468.02,90.85 L469.65,91.99 L471.28,93.18 L472.90,94.40 L474.53,95.65 L476.16,96.94 L477.79,98.27 L479.42,99.64 L481.05,101.05 L482.68,102.49 L484.31,103.98 L485.94,105.50 L487.57,107.06 L489.20,108.66 L490.83,110.30 L492.45,111.97 L494.08,113.68 L495.71,115.43 L497.34,117.22 L498.97,119.05 L500.60,120.91 L502.23,122.80 L503.86,124.73 L505.49,126.69 L507.12,128.68 L508.75,130.70 L510.38,132.75 L512.01,134.83 L513.63,136.94 L515.26,139.07 L516.89,141.22 L518.52,143.40 L520.15,145.59 L521.78,147.80 L523.41,150.03 L525.04,152.27 L526.67,154.52 L528.30,156.78 L529.93,159.05 L531.56,161.33 L533.18,163.60 L534.81,165.88 L536.44,168.16 L538.07,170.43 L539.70,172.70 L541.33,174.95 L542.96,177.20 L544.59,179.44 L546.22,181.66 L547.85,183.86 L549.48,186.05 L551.11,188.21 L552.73,190.36 L554.36,192.48 L555.99,194.57 L557.62,196.64 L559.25,198.68 L560.88,200.69 L562.51,202.67 L564.14,204.62 L565.77,206.53 L567.40,208.41 L569.03,210.26 L570.66,212.07 L572.28,213.84 L573.91,215.58 L575.54,217.27 L577.17,218.93 L578.80,220.56 L580.43,222.14 L582.06,223.68 L583.69,225.19 L585.32,226.66 L586.95,228.09 L588.58,229.48 L590.21,230.83 L591.83,232.14 L593.46,233.42 L595.09,234.66 L596.72,235.87 L598.35,237.03 L599.98,238.17 L601.61,239.26 L603.24,240.32 L604.87,241.35 L606.50,242.35 L608.13,243.31 L609.76,244.24 L611.39,245.14 L613.01,246.01 L614.64,246.85 L616.27,247.66 L617.90,248.44 L619.53,249.20 L621.16,249.92 L622.79,250.62 L624.42,251.30 L626.05,251.95 L627.68,252.58 L629.31,253.18 L630.94,253.77 L632.56,254.33 L634.19,254.87 L635.82,255.39 L637.45,255.88 L639.08,256.36 L640.71,256.83 L642.34,257.27 L643.97,257.70 L645.60,258.10 L647.23,258.50 L648.86,258.88 L650.49,259.24 L652.11,259.59 L653.74,259.92 L655.37,260.25 L657.00,260.55 L658.63,260.85 L660.26,261.13 L661.89,261.41 L663.52,261.67 L665.15,261.92 L666.78,262.16 L668.41,262.39 L670.04,262.61 L671.66,262.83 L673.29,263.03 L674.92,263.22 L676.55,263.41 L678.18,263.59 L679.81,263.76 L681.44,263.93" fill="none" stroke="#007a00" stroke-width="2.3"/>
<path d="M422.40,71.11 L424.03,71.54 L425.66,72.00 L427.29,72.48 L428.92,72.98 L430.55,73.51 L432.18,74.06 L433.80,74.64 L435.43,75.24 L437.06,75.87 L438.69,76.53 L440.32,77.22 L441.95,77.95 L443.58,78.70 L445.21,79.49 L446.84,80.31 L448.47,81.17 L450.10,82.07 L451.73,83.01 L453.35,83.98 L454.98,85.00 L456.61,86.06 L458.24,87.16 L459.87,88.30 L461.50,89.49 L463.13,90.73 L464.76,92.01 L466.39,93.35 L468.02,94.73 L469.65,96.16 L471.28,97.64 L472.90,99.17 L474.53,100.75 L476.16,102.39 L477.79,104.08 L479.42,105.82 L481.05,107.61 L482.68,109.46 L484.31,111.36 L485.94,113.31 L487.57,115.31 L489.20,117.36 L490.83,119.47 L492.45,121.62 L494.08,123.81 L495.71,126.05 L497.34,128.34 L498.97,130.67 L500.60,133.04 L502.23,135.45 L503.86,137.89 L505.49,140.36 L507.12,142.87 L508.75,145.40 L510.38,147.95 L512.01,150.53 L513.63,153.13 L515.26,155.74 L516.89,158.36 L518.52,160.98 L520.15,163.62 L521.78,166.25 L523.41,168.88 L525.04,171.50 L526.67,174.11 L528.30,176.71 L529.93,179.29 L531.56,181.85 L533.18,184.39 L534.81,186.90 L536.44,189.39 L538.07,191.84 L539.70,194.25 L541.33,196.63 L542.96,198.97 L544.59,201.27 L546.22,203.52 L547.85,205.73 L549.48,207.89 L551.11,210.01 L552.73,212.07 L554.36,214.09 L555.99,216.05 L557.62,217.96 L559.25,219.82 L560.88,221.63 L562.51,223.38 L564.14,225.08 L565.77,226.73 L567.40,228.33 L569.03,229.88 L570.66,231.37 L572.28,232.81 L573.91,234.21 L575.54,235.55 L577.17,236.85 L578.80,238.10 L580.43,239.30 L582.06,240.46 L583.69,241.57 L585.32,242.64 L586.95,243.66 L588.58,244.65 L590.21,245.59 L591.83,246.50 L593.46,247.37 L595.09,248.20 L596.72,249.00 L598.35,249.76 L599.98,250.50 L601.61,251.19 L603.24,251.86 L604.87,252.50 L606.50,253.11 L608.13,253.70 L609.76,254.25 L611.39,254.79 L613.01,255.30 L614.64,255.78 L616.27,256.24 L617.90,256.68 L619.53,257.10 L621.16,257.51 L622.79,257.89 L624.42,258.25 L626.05,258.60 L627.68,258.93 L629.31,259.25 L630.94,259.55 L632.56,259.83 L634.19,260.10 L635.82,260.36 L637.45,260.61 L639.08,260.84 L640.71,261.07 L642.34,261.28 L643.97,261.48 L645.60,261.67 L647.23,261.86 L648.86,262.03 L650.49,262.20 L652.11,262.35 L653.74,262.50 L655.37,262.65 L657.00,262.78 L658.63,262.91 L660.26,263.03 L661.89,263.15 L663.52,263.26 L665.15,263.36 L666.78,263.46 L668.41,263.56 L670.04,263.65 L671.66,263.73 L673.29,263.82 L674.92,263.89 L676.55,263.97 L678.18,264.04 L679.81,264.10 L681.44,264.16" fill="none" stroke="#ff6f00" stroke-width="2.4"/>
<path d="M422.40,69.43 L424.03,70.01 L425.66,70.61 L427.29,71.24 L428.92,71.89 L430.55,72.57 L432.18,73.28 L433.80,74.01 L435.43,74.78 L437.06,75.57 L438.69,76.40 L440.32,77.25 L441.95,78.14 L443.58,79.06 L445.21,80.02 L446.84,81.01 L448.47,82.03 L450.10,83.10 L451.73,84.20 L453.35,85.33 L454.98,86.51 L456.61,87.73 L458.24,88.98 L459.87,90.28 L461.50,91.62 L463.13,93.00 L464.76,94.42 L466.39,95.88 L468.02,97.39 L469.65,98.94 L471.28,100.53 L472.90,102.17 L474.53,103.84 L476.16,105.57 L477.79,107.33 L479.42,109.13 L481.05,110.98 L482.68,112.87 L484.31,114.80 L485.94,116.77 L487.57,118.77 L489.20,120.81 L490.83,122.89 L492.45,125.01 L494.08,127.15 L495.71,129.33 L497.34,131.54 L498.97,133.78 L500.60,136.04 L502.23,138.33 L503.86,140.63 L505.49,142.96 L507.12,145.31 L508.75,147.67 L510.38,150.04 L512.01,152.43 L513.63,154.82 L515.26,157.21 L516.89,159.61 L518.52,162.01 L520.15,164.41 L521.78,166.80 L523.41,169.18 L525.04,171.55 L526.67,173.91 L528.30,176.26 L529.93,178.58 L531.56,180.89 L533.18,183.18 L534.81,185.44 L536.44,187.67 L538.07,189.88 L539.70,192.05 L541.33,194.20 L542.96,196.31 L544.59,198.38 L546.22,200.43 L547.85,202.43 L549.48,204.39 L551.11,206.32 L552.73,208.20 L554.36,210.05 L555.99,211.85 L557.62,213.61 L559.25,215.33 L560.88,217.00 L562.51,218.63 L564.14,220.22 L565.77,221.77 L567.40,223.27 L569.03,224.73 L570.66,226.15 L572.28,227.53 L573.91,228.86 L575.54,230.16 L577.17,231.41 L578.80,232.62 L580.43,233.80 L582.06,234.93 L583.69,236.03 L585.32,237.09 L586.95,238.11 L588.58,239.10 L590.21,240.05 L591.83,240.97 L593.46,241.86 L595.09,242.71 L596.72,243.53 L598.35,244.32 L599.98,245.08 L601.61,245.82 L603.24,246.52 L604.87,247.20 L606.50,247.85 L608.13,248.48 L609.76,249.08 L611.39,249.66 L613.01,250.21 L614.64,250.74 L616.27,251.25 L617.90,251.74 L619.53,252.21 L621.16,252.66 L622.79,253.10 L624.42,253.51 L626.05,253.91 L627.68,254.29 L629.31,254.65 L630.94,255.00 L632.56,255.34 L634.19,255.66 L635.82,255.96 L637.45,256.26 L639.08,256.54 L640.71,256.81 L642.34,257.06 L643.97,257.31 L645.60,257.55 L647.23,257.77 L648.86,257.99 L650.49,258.19 L652.11,258.39 L653.74,258.58 L655.37,258.76 L657.00,258.93 L658.63,259.10 L660.26,259.26 L661.89,259.41 L663.52,259.55 L665.15,259.69 L666.78,259.82 L668.41,259.95 L670.04,260.07 L671.66,260.18 L673.29,260.29 L674.92,260.40 L676.55,260.50 L678.18,260.59 L679.81,260.69 L681.44,260.77" fill="none" stroke="#0000ff" stroke-width="2.4"/>
<path d="M422.40,73.75 L424.03,74.07 L425.66,74.40 L427.29,74.74 L428.92,75.10 L430.55,75.46 L432.18,75.84 L433.80,76.23 L435.43,76.64 L437.06,77.06 L438.69,77.49 L440.32,77.94 L441.95,78.40 L443.58,78.88 L445.21,79.37 L446.84,79.88 L448.47,80.41 L450.10,80.95 L451.73,81.51 L453.35,82.09 L454.98,82.69 L456.61,83.31 L458.24,83.95 L459.87,84.60 L461.50,85.28 L463.13,85.98 L464.76,86.70 L466.39,87.44 L468.02,88.20 L469.65,88.99 L471.28,89.80 L472.90,90.63 L474.53,91.49 L476.16,92.37 L477.79,93.28 L479.42,94.21 L481.05,95.17 L482.68,96.15 L484.31,97.16 L485.94,98.20 L487.57,99.27 L489.20,100.36 L490.83,101.47 L492.45,102.62 L494.08,103.80 L495.71,105.00 L497.34,106.23 L498.97,107.49 L500.60,108.77 L502.23,110.09 L503.86,111.43 L505.49,112.80 L507.12,114.20 L508.75,115.63 L510.38,117.09 L512.01,118.57 L513.63,120.08 L515.26,121.62 L516.89,123.18 L518.52,124.77 L520.15,126.38 L521.78,128.02 L523.41,129.69 L525.04,131.38 L526.67,133.09 L528.30,134.82 L529.93,136.57 L531.56,138.35 L533.18,140.14 L534.81,141.96 L536.44,143.79 L538.07,145.63 L539.70,147.49 L541.33,149.37 L542.96,151.26 L544.59,153.16 L546.22,155.07 L547.85,156.99 L549.48,158.92 L551.11,160.85 L552.73,162.79 L554.36,164.74 L555.99,166.68 L557.62,168.63 L559.25,170.57 L560.88,172.52 L562.51,174.46 L564.14,176.40 L565.77,178.33 L567.40,180.25 L569.03,182.17 L570.66,184.07 L572.28,185.97 L573.91,187.85 L575.54,189.71 L577.17,191.57 L578.80,193.40 L580.43,195.22 L582.06,197.03 L583.69,198.81 L585.32,200.57 L586.95,202.32 L588.58,204.04 L590.21,205.73 L591.83,207.41 L593.46,209.06 L595.09,210.68 L596.72,212.28 L598.35,213.86 L599.98,215.41 L601.61,216.93 L603.24,218.42 L604.87,219.89 L606.50,221.33 L608.13,222.74 L609.76,224.13 L611.39,225.48 L613.01,226.81 L614.64,228.11 L616.27,229.38 L617.90,230.62 L619.53,231.84 L621.16,233.02 L622.79,234.18 L624.42,235.31 L626.05,236.41 L627.68,237.49 L629.31,238.54 L630.94,239.56 L632.56,240.55 L634.19,241.52 L635.82,242.46 L637.45,243.38 L639.08,244.28 L640.71,245.14 L642.34,245.99 L643.97,246.81 L645.60,247.60 L647.23,248.38 L648.86,249.13 L650.49,249.86 L652.11,250.57 L653.74,251.25 L655.37,251.92 L657.00,252.56 L658.63,253.19 L660.26,253.80 L661.89,254.38 L663.52,254.95 L665.15,255.50 L666.78,256.04 L668.41,256.56 L670.04,257.06 L671.66,257.54 L673.29,258.01 L674.92,258.46 L676.55,258.90 L678.18,259.33 L679.81,259.74 L681.44,260.13" fill="none" stroke="#ff0000" stroke-width="2.4"/>
<polygon points="429,83 441,62.2 448.7,64.8 436.7,85.5" fill="#fff"/>
<line x1="429" y1="83" x2="441" y2="62.2" stroke="#000" stroke-width="2"/>
<line x1="436.7" y1="85.5" x2="448.7" y2="64.8" stroke="#000" stroke-width="2"/>
<polygon points="429.3,282.1 441.4,261.7 449.1,264 436.8,284.5" fill="#fff"/>
<line x1="429.3" y1="282.1" x2="441.4" y2="261.7" stroke="#000" stroke-width="2"/>
<line x1="436.8" y1="284.5" x2="449.1" y2="264" stroke="#000" stroke-width="2"/>
<text transform="translate(420.5,303.0) scale(1,1.06)" class="tl">0</text>
<text transform="translate(441.6,303.0) scale(1,1.06)" class="tl">- 2</text><g class="o1" transform="translate(441.6,303.0) scale(1,1.06)"><path d="M696,0L515,0L515,1237L197,1010L197,1180L530,1409L696,1409Z" transform="translate(4.99,0.00) scale(0.00732,-0.00732)"/></g>
<text transform="translate(476.5,303.0) scale(1,1.06)" class="tl">-  </text><g class="o1" transform="translate(476.5,303.0) scale(1,1.06)"><path d="M696,0L515,0L515,1237L197,1010L197,1180L530,1409L696,1409Z" transform="translate(4.99,0.00) scale(0.00732,-0.00732)"/><path d="M696,0L515,0L515,1237L197,1010L197,1180L530,1409L696,1409Z" transform="translate(13.31,0.00) scale(0.00732,-0.00732)"/></g>
<text transform="translate(505.7,303.0) scale(1,1.06)" class="tl">- 0</text><g class="o1" transform="translate(505.7,303.0) scale(1,1.06)"><path d="M696,0L515,0L515,1237L197,1010L197,1180L530,1409L696,1409Z" transform="translate(4.99,0.00) scale(0.00732,-0.00732)"/></g>
<text transform="translate(539.6,303.0) scale(1,1.06)" class="tl">-9</text>
<text transform="translate(570.7,303.0) scale(1,1.06)" class="tl">-8</text>
<text transform="translate(605.2,303.0) scale(1,1.06)" class="tl">-7</text>
<text transform="translate(635.9,303.0) scale(1,1.06)" class="tl">-6</text>
<text transform="translate(670.2,303.0) scale(1,1.06)" class="tl">-5</text>
<text transform="translate(409.2,77.3) scale(1,1.06)" class="tl" text-anchor="end"> 00</text><g class="o1" transform="translate(409.2,77.3) scale(1,1.06)"><path d="M696,0L515,0L515,1237L197,1010L197,1180L530,1409L696,1409Z" transform="translate(-25.00,0.00) scale(0.00732,-0.00732)"/></g>
<text transform="translate(409.2,179.3) scale(1,1.06)" class="tl" text-anchor="end">50</text>
<text transform="translate(413.2,279.6) scale(1,1.06)" class="tl" text-anchor="end">0</text>
<path d="M75.5,391.8V637.8M70.0,630.8H333.7" stroke="#464646" stroke-width="1.3" fill="none"/>
<path d="M70.0,431.2h5.5M70.0,531.2h5.5" stroke="#464646" stroke-width="1.3"/>
<path d="M86.58,630.8v4.0M93.07,630.8v4.0M97.67,630.8v4.0M101.24,630.8v4.0M104.15,630.8v4.0M106.62,630.8v4.0M108.75,630.8v4.0M110.64,630.8v4.0M112.32,630.8v7.0M123.40,630.8v4.0M129.89,630.8v4.0M134.49,630.8v4.0M138.06,630.8v4.0M140.97,630.8v4.0M143.44,630.8v4.0M145.57,630.8v4.0M147.46,630.8v4.0M149.14,630.8v7.0M160.22,630.8v4.0M166.71,630.8v4.0M171.31,630.8v4.0M174.88,630.8v4.0M177.79,630.8v4.0M180.26,630.8v4.0M182.39,630.8v4.0M184.28,630.8v4.0M185.96,630.8v7.0M197.04,630.8v4.0M203.53,630.8v4.0M208.13,630.8v4.0M211.70,630.8v4.0M214.61,630.8v4.0M217.08,630.8v4.0M219.21,630.8v4.0M221.10,630.8v4.0M222.78,630.8v7.0M233.86,630.8v4.0M240.35,630.8v4.0M244.95,630.8v4.0M248.52,630.8v4.0M251.43,630.8v4.0M253.90,630.8v4.0M256.03,630.8v4.0M257.92,630.8v4.0M259.60,630.8v7.0M270.68,630.8v4.0M277.17,630.8v4.0M281.77,630.8v4.0M285.34,630.8v4.0M288.25,630.8v4.0M290.72,630.8v4.0M292.85,630.8v4.0M294.74,630.8v4.0M296.42,630.8v7.0M307.50,630.8v4.0M313.99,630.8v4.0M318.59,630.8v4.0M322.16,630.8v4.0M325.07,630.8v4.0M327.54,630.8v4.0M329.67,630.8v4.0M331.56,630.8v4.0M333.24,630.8v7.0" stroke="#464646" stroke-width="1.1" fill="none"/>
<ellipse cx="75.50" cy="431.50" rx="3.9" ry="4.8" fill="#000000"/>
<ellipse cx="112.32" cy="437.00" rx="3.9" ry="4.8" fill="#000000"/>
<ellipse cx="149.14" cy="449.00" rx="3.9" ry="4.8" fill="#000000"/>
<ellipse cx="185.96" cy="472.50" rx="3.9" ry="4.8" fill="#000000"/>
<ellipse cx="222.78" cy="494.80" rx="3.9" ry="4.8" fill="#000000"/>
<ellipse cx="259.60" cy="528.90" rx="3.9" ry="4.8" fill="#000000"/>
<ellipse cx="296.42" cy="572.00" rx="3.9" ry="4.8" fill="#000000"/>
<ellipse cx="333.24" cy="605.60" rx="3.9" ry="4.8" fill="#000000"/>
<ellipse cx="75.50" cy="431.50" rx="3.9" ry="4.8" fill="#008000"/>
<ellipse cx="112.32" cy="443.00" rx="3.9" ry="4.8" fill="#008000"/>
<path d="M149.14,448.50V465.50M145.14,448.50h8M145.14,465.50h8" stroke="#008000" stroke-width="1.7" fill="none"/>
<ellipse cx="149.14" cy="457.00" rx="3.9" ry="4.8" fill="#008000"/>
<path d="M185.96,483.40V511.80M181.96,483.40h8M181.96,511.80h8" stroke="#008000" stroke-width="1.7" fill="none"/>
<ellipse cx="185.96" cy="497.60" rx="3.9" ry="4.8" fill="#008000"/>
<ellipse cx="222.78" cy="533.40" rx="3.9" ry="4.8" fill="#008000"/>
<ellipse cx="259.60" cy="558.90" rx="3.9" ry="4.8" fill="#008000"/>
<ellipse cx="296.42" cy="597.10" rx="3.9" ry="4.8" fill="#008000"/>
<ellipse cx="333.24" cy="627.40" rx="3.9" ry="4.8" fill="#008000"/>
<ellipse cx="75.50" cy="431.50" rx="3.9" ry="4.8" fill="#ff8c00"/>
<ellipse cx="112.32" cy="438.00" rx="3.9" ry="4.8" fill="#ff8c00"/>
<path d="M149.14,431.50V448.50M145.14,431.50h8M145.14,448.50h8" stroke="#ff8c00" stroke-width="1.7" fill="none"/>
<ellipse cx="149.14" cy="440.00" rx="3.9" ry="4.8" fill="#ff8c00"/>
<path d="M185.96,469.90V500.70M181.96,469.90h8M181.96,500.70h8" stroke="#ff8c00" stroke-width="1.7" fill="none"/>
<ellipse cx="185.96" cy="485.30" rx="3.9" ry="4.8" fill="#ff8c00"/>
<path d="M222.78,499.20V527.80M218.78,499.20h8M218.78,527.80h8" stroke="#ff8c00" stroke-width="1.7" fill="none"/>
<ellipse cx="222.78" cy="513.50" rx="3.9" ry="4.8" fill="#ff8c00"/>
<path d="M259.60,548.00V581.60M255.60,548.00h8M255.60,581.60h8" stroke="#ff8c00" stroke-width="1.7" fill="none"/>
<ellipse cx="259.60" cy="564.80" rx="3.9" ry="4.8" fill="#ff8c00"/>
<path d="M296.42,576.70V602.30M292.42,576.70h8M292.42,602.30h8" stroke="#ff8c00" stroke-width="1.7" fill="none"/>
<ellipse cx="296.42" cy="589.50" rx="3.9" ry="4.8" fill="#ff8c00"/>
<ellipse cx="333.24" cy="617.70" rx="3.9" ry="4.8" fill="#ff8c00"/>
<ellipse cx="75.50" cy="431.50" rx="3.9" ry="4.8" fill="#0000ff"/>
<ellipse cx="112.32" cy="435.60" rx="3.9" ry="4.8" fill="#0000ff"/>
<path d="M149.14,451.20V465.60M145.14,451.20h8M145.14,465.60h8" stroke="#0000ff" stroke-width="1.7" fill="none"/>
<ellipse cx="149.14" cy="458.40" rx="3.9" ry="4.8" fill="#0000ff"/>
<path d="M185.96,476.30V489.70M181.96,476.30h8M181.96,489.70h8" stroke="#0000ff" stroke-width="1.7" fill="none"/>
<ellipse cx="185.96" cy="483.00" rx="3.9" ry="4.8" fill="#0000ff"/>
<ellipse cx="222.78" cy="502.90" rx="3.9" ry="4.8" fill="#0000ff"/>
<ellipse cx="259.60" cy="519.30" rx="3.9" ry="4.8" fill="#0000ff"/>
<path d="M296.42,553.40V564.40M292.42,553.40h8M292.42,564.40h8" stroke="#0000ff" stroke-width="1.7" fill="none"/>
<ellipse cx="296.42" cy="558.90" rx="3.9" ry="4.8" fill="#0000ff"/>
<path d="M333.24,559.60V570.80M329.24,559.60h8M329.24,570.80h8" stroke="#0000ff" stroke-width="1.7" fill="none"/>
<ellipse cx="333.24" cy="565.20" rx="3.9" ry="4.8" fill="#0000ff"/>
<ellipse cx="75.50" cy="431.30" rx="3.9" ry="4.8" fill="#ff0000"/>
<ellipse cx="112.32" cy="435.90" rx="3.9" ry="4.8" fill="#ff0000"/>
<path d="M149.14,435.30V445.30M145.14,435.30h8M145.14,445.30h8" stroke="#ff0000" stroke-width="1.7" fill="none"/>
<ellipse cx="149.14" cy="440.30" rx="3.9" ry="4.8" fill="#ff0000"/>
<path d="M185.96,452.80V466.80M181.96,452.80h8M181.96,466.80h8" stroke="#ff0000" stroke-width="1.7" fill="none"/>
<ellipse cx="185.96" cy="459.80" rx="3.9" ry="4.8" fill="#ff0000"/>
<path d="M222.78,469.20V487.80M218.78,469.20h8M218.78,487.80h8" stroke="#ff0000" stroke-width="1.7" fill="none"/>
<ellipse cx="222.78" cy="478.50" rx="3.9" ry="4.8" fill="#ff0000"/>
<path d="M259.60,496.80V513.60M255.60,496.80h8M255.60,513.60h8" stroke="#ff0000" stroke-width="1.7" fill="none"/>
<ellipse cx="259.60" cy="505.20" rx="3.9" ry="4.8" fill="#ff0000"/>
<ellipse cx="296.42" cy="535.00" rx="3.9" ry="4.8" fill="#ff0000"/>
<ellipse cx="333.24" cy="545.60" rx="3.9" ry="4.8" fill="#ff0000"/>
<path d="M75.50,430.89 L77.12,431.15 L78.74,431.42 L80.36,431.70 L81.98,431.98 L83.61,432.27 L85.23,432.56 L86.85,432.86 L88.47,433.17 L90.09,433.49 L91.71,433.81 L93.33,434.14 L94.95,434.47 L96.57,434.82 L98.19,435.17 L99.82,435.53 L101.44,435.90 L103.06,436.27 L104.68,436.66 L106.30,437.05 L107.92,437.45 L109.54,437.86 L111.16,438.27 L112.78,438.70 L114.40,439.14 L116.03,439.58 L117.65,440.04 L119.27,440.50 L120.89,440.98 L122.51,441.46 L124.13,441.95 L125.75,442.46 L127.37,442.97 L128.99,443.50 L130.61,444.04 L132.24,444.58 L133.86,445.14 L135.48,445.71 L137.10,446.29 L138.72,446.89 L140.34,447.49 L141.96,448.11 L143.58,448.74 L145.20,449.38 L146.82,450.03 L148.45,450.70 L150.07,451.38 L151.69,452.07 L153.31,452.78 L154.93,453.50 L156.55,454.23 L158.17,454.98 L159.79,455.74 L161.41,456.51 L163.03,457.30 L164.66,458.10 L166.28,458.92 L167.90,459.75 L169.52,460.59 L171.14,461.45 L172.76,462.33 L174.38,463.22 L176.00,464.13 L177.62,465.05 L179.24,465.98 L180.87,466.93 L182.49,467.90 L184.11,468.88 L185.73,469.88 L187.35,470.90 L188.97,471.93 L190.59,472.97 L192.21,474.03 L193.83,475.11 L195.45,476.21 L197.08,477.32 L198.70,478.44 L200.32,479.58 L201.94,480.74 L203.56,481.91 L205.18,483.10 L206.80,484.31 L208.42,485.53 L210.04,486.77 L211.66,488.02 L213.29,489.29 L214.91,490.58 L216.53,491.88 L218.15,493.19 L219.77,494.52 L221.39,495.87 L223.01,497.23 L224.63,498.60 L226.25,499.99 L227.87,501.40 L229.50,502.82 L231.12,504.25 L232.74,505.69 L234.36,507.15 L235.98,508.63 L237.60,510.11 L239.22,511.61 L240.84,513.12 L242.46,514.65 L244.08,516.18 L245.71,517.73 L247.33,519.29 L248.95,520.85 L250.57,522.43 L252.19,524.02 L253.81,525.62 L255.43,527.23 L257.05,528.84 L258.67,530.47 L260.29,532.10 L261.92,533.74 L263.54,535.39 L265.16,537.04 L266.78,538.70 L268.40,540.37 L270.02,542.04 L271.64,543.71 L273.26,545.39 L274.88,547.08 L276.50,548.76 L278.13,550.45 L279.75,552.14 L281.37,553.84 L282.99,555.53 L284.61,557.23 L286.23,558.92 L287.85,560.62 L289.47,562.31 L291.09,564.01 L292.71,565.70 L294.34,567.39 L295.96,569.07 L297.58,570.76 L299.20,572.44 L300.82,574.11 L302.44,575.78 L304.06,577.44 L305.68,579.10 L307.30,580.76 L308.92,582.40 L310.55,584.04 L312.17,585.67 L313.79,587.30 L315.41,588.91 L317.03,590.52 L318.65,592.11 L320.27,593.70 L321.89,595.28 L323.51,596.84 L325.13,598.40 L326.76,599.94 L328.38,601.48 L330.00,603.00 L331.62,604.51 L333.24,606.00" fill="none" stroke="#333333" stroke-width="2.0"/>
<path d="M75.50,428.39 L77.12,428.88 L78.74,429.38 L80.36,429.89 L81.98,430.42 L83.61,430.95 L85.23,431.50 L86.85,432.06 L88.47,432.63 L90.09,433.21 L91.71,433.80 L93.33,434.40 L94.95,435.02 L96.57,435.65 L98.19,436.29 L99.82,436.94 L101.44,437.61 L103.06,438.29 L104.68,438.98 L106.30,439.69 L107.92,440.41 L109.54,441.14 L111.16,441.89 L112.78,442.65 L114.40,443.42 L116.03,444.21 L117.65,445.01 L119.27,445.83 L120.89,446.66 L122.51,447.51 L124.13,448.37 L125.75,449.25 L127.37,450.14 L128.99,451.05 L130.61,451.97 L132.24,452.90 L133.86,453.86 L135.48,454.83 L137.10,455.81 L138.72,456.81 L140.34,457.82 L141.96,458.85 L143.58,459.90 L145.20,460.96 L146.82,462.04 L148.45,463.13 L150.07,464.24 L151.69,465.37 L153.31,466.51 L154.93,467.67 L156.55,468.84 L158.17,470.03 L159.79,471.23 L161.41,472.45 L163.03,473.69 L164.66,474.94 L166.28,476.20 L167.90,477.49 L169.52,478.78 L171.14,480.09 L172.76,481.42 L174.38,482.76 L176.00,484.11 L177.62,485.48 L179.24,486.86 L180.87,488.26 L182.49,489.66 L184.11,491.09 L185.73,492.52 L187.35,493.97 L188.97,495.43 L190.59,496.90 L192.21,498.39 L193.83,499.88 L195.45,501.39 L197.08,502.90 L198.70,504.43 L200.32,505.97 L201.94,507.51 L203.56,509.07 L205.18,510.63 L206.80,512.21 L208.42,513.79 L210.04,515.37 L211.66,516.97 L213.29,518.57 L214.91,520.18 L216.53,521.79 L218.15,523.41 L219.77,525.03 L221.39,526.66 L223.01,528.29 L224.63,529.92 L226.25,531.56 L227.87,533.20 L229.50,534.84 L231.12,536.48 L232.74,538.12 L234.36,539.76 L235.98,541.40 L237.60,543.04 L239.22,544.68 L240.84,546.32 L242.46,547.95 L244.08,549.58 L245.71,551.21 L247.33,552.83 L248.95,554.45 L250.57,556.07 L252.19,557.68 L253.81,559.28 L255.43,560.87 L257.05,562.46 L258.67,564.05 L260.29,565.62 L261.92,567.19 L263.54,568.74 L265.16,570.29 L266.78,571.83 L268.40,573.36 L270.02,574.88 L271.64,576.39 L273.26,577.89 L274.88,579.37 L276.50,580.85 L278.13,582.31 L279.75,583.76 L281.37,585.20 L282.99,586.62 L284.61,588.03 L286.23,589.43 L287.85,590.82 L289.47,592.19 L291.09,593.55 L292.71,594.89 L294.34,596.22 L295.96,597.53 L297.58,598.83 L299.20,600.11 L300.82,601.38 L302.44,602.64 L304.06,603.88 L305.68,605.10 L307.30,606.31 L308.92,607.50 L310.55,608.67 L312.17,609.84 L313.79,610.98 L315.41,612.11 L317.03,613.22 L318.65,614.32 L320.27,615.40 L321.89,616.47 L323.51,617.52 L325.13,618.55 L326.76,619.57 L328.38,620.57 L330.00,621.56 L331.62,622.53 L333.24,623.49" fill="none" stroke="#007a00" stroke-width="2.3"/>
<path d="M75.50,430.54 L77.12,430.71 L78.74,430.90 L80.36,431.09 L81.98,431.28 L83.61,431.49 L85.23,431.70 L86.85,431.92 L88.47,432.15 L90.09,432.38 L91.71,432.63 L93.33,432.89 L94.95,433.15 L96.57,433.42 L98.19,433.71 L99.82,434.01 L101.44,434.31 L103.06,434.63 L104.68,434.96 L106.30,435.30 L107.92,435.66 L109.54,436.02 L111.16,436.40 L112.78,436.80 L114.40,437.21 L116.03,437.63 L117.65,438.07 L119.27,438.52 L120.89,438.99 L122.51,439.48 L124.13,439.98 L125.75,440.50 L127.37,441.04 L128.99,441.60 L130.61,442.18 L132.24,442.77 L133.86,443.39 L135.48,444.03 L137.10,444.68 L138.72,445.36 L140.34,446.06 L141.96,446.79 L143.58,447.53 L145.20,448.30 L146.82,449.10 L148.45,449.92 L150.07,450.76 L151.69,451.63 L153.31,452.53 L154.93,453.45 L156.55,454.40 L158.17,455.38 L159.79,456.39 L161.41,457.42 L163.03,458.48 L164.66,459.57 L166.28,460.69 L167.90,461.84 L169.52,463.02 L171.14,464.23 L172.76,465.47 L174.38,466.75 L176.00,468.05 L177.62,469.38 L179.24,470.74 L180.87,472.13 L182.49,473.56 L184.11,475.01 L185.73,476.49 L187.35,478.01 L188.97,479.55 L190.59,481.12 L192.21,482.72 L193.83,484.35 L195.45,486.01 L197.08,487.69 L198.70,489.40 L200.32,491.14 L201.94,492.90 L203.56,494.68 L205.18,496.49 L206.80,498.32 L208.42,500.17 L210.04,502.04 L211.66,503.93 L213.29,505.84 L214.91,507.76 L216.53,509.70 L218.15,511.65 L219.77,513.62 L221.39,515.59 L223.01,517.58 L224.63,519.57 L226.25,521.57 L227.87,523.57 L229.50,525.57 L231.12,527.58 L232.74,529.59 L234.36,531.60 L235.98,533.60 L237.60,535.60 L239.22,537.59 L240.84,539.57 L242.46,541.55 L244.08,543.51 L245.71,545.47 L247.33,547.41 L248.95,549.33 L250.57,551.24 L252.19,553.13 L253.81,555.00 L255.43,556.85 L257.05,558.68 L258.67,560.49 L260.29,562.28 L261.92,564.04 L263.54,565.78 L265.16,567.49 L266.78,569.18 L268.40,570.83 L270.02,572.47 L271.64,574.07 L273.26,575.64 L274.88,577.19 L276.50,578.70 L278.13,580.19 L279.75,581.64 L281.37,583.07 L282.99,584.46 L284.61,585.83 L286.23,587.16 L287.85,588.46 L289.47,589.74 L291.09,590.98 L292.71,592.19 L294.34,593.37 L295.96,594.53 L297.58,595.65 L299.20,596.74 L300.82,597.81 L302.44,598.84 L304.06,599.85 L305.68,600.83 L307.30,601.78 L308.92,602.70 L310.55,603.60 L312.17,604.47 L313.79,605.32 L315.41,606.14 L317.03,606.94 L318.65,607.71 L320.27,608.46 L321.89,609.18 L323.51,609.89 L325.13,610.57 L326.76,611.22 L328.38,611.86 L330.00,612.48 L331.62,613.08 L333.24,613.65" fill="none" stroke="#ff6f00" stroke-width="2.4"/>
<path d="M75.50,428.91 L77.12,429.35 L78.74,429.79 L80.36,430.25 L81.98,430.70 L83.61,431.17 L85.23,431.65 L86.85,432.13 L88.47,432.62 L90.09,433.12 L91.71,433.63 L93.33,434.15 L94.95,434.67 L96.57,435.21 L98.19,435.75 L99.82,436.30 L101.44,436.86 L103.06,437.43 L104.68,438.01 L106.30,438.60 L107.92,439.19 L109.54,439.80 L111.16,440.41 L112.78,441.04 L114.40,441.67 L116.03,442.31 L117.65,442.97 L119.27,443.63 L120.89,444.30 L122.51,444.98 L124.13,445.67 L125.75,446.37 L127.37,447.08 L128.99,447.80 L130.61,448.53 L132.24,449.27 L133.86,450.02 L135.48,450.77 L137.10,451.54 L138.72,452.32 L140.34,453.10 L141.96,453.90 L143.58,454.71 L145.20,455.52 L146.82,456.35 L148.45,457.18 L150.07,458.02 L151.69,458.88 L153.31,459.74 L154.93,460.61 L156.55,461.49 L158.17,462.38 L159.79,463.28 L161.41,464.18 L163.03,465.10 L164.66,466.02 L166.28,466.96 L167.90,467.90 L169.52,468.85 L171.14,469.80 L172.76,470.77 L174.38,471.74 L176.00,472.72 L177.62,473.71 L179.24,474.71 L180.87,475.71 L182.49,476.72 L184.11,477.73 L185.73,478.76 L187.35,479.79 L188.97,480.82 L190.59,481.86 L192.21,482.91 L193.83,483.96 L195.45,485.02 L197.08,486.08 L198.70,487.15 L200.32,488.22 L201.94,489.30 L203.56,490.38 L205.18,491.46 L206.80,492.55 L208.42,493.64 L210.04,494.73 L211.66,495.83 L213.29,496.93 L214.91,498.03 L216.53,499.13 L218.15,500.24 L219.77,501.35 L221.39,502.45 L223.01,503.56 L224.63,504.67 L226.25,505.78 L227.87,506.89 L229.50,508.00 L231.12,509.11 L232.74,510.21 L234.36,511.32 L235.98,512.42 L237.60,513.53 L239.22,514.63 L240.84,515.73 L242.46,516.82 L244.08,517.92 L245.71,519.01 L247.33,520.10 L248.95,521.18 L250.57,522.26 L252.19,523.33 L253.81,524.41 L255.43,525.47 L257.05,526.53 L258.67,527.59 L260.29,528.64 L261.92,529.69 L263.54,530.73 L265.16,531.76 L266.78,532.79 L268.40,533.81 L270.02,534.83 L271.64,535.84 L273.26,536.84 L274.88,537.83 L276.50,538.82 L278.13,539.80 L279.75,540.77 L281.37,541.74 L282.99,542.69 L284.61,543.64 L286.23,544.58 L287.85,545.51 L289.47,546.43 L291.09,547.35 L292.71,548.25 L294.34,549.15 L295.96,550.04 L297.58,550.92 L299.20,551.79 L300.82,552.65 L302.44,553.50 L304.06,554.34 L305.68,555.18 L307.30,556.00 L308.92,556.81 L310.55,557.62 L312.17,558.41 L313.79,559.20 L315.41,559.97 L317.03,560.74 L318.65,561.50 L320.27,562.24 L321.89,562.98 L323.51,563.71 L325.13,564.43 L326.76,565.14 L328.38,565.83 L330.00,566.52 L331.62,567.20 L333.24,567.87" fill="none" stroke="#0000ff" stroke-width="2.4"/>
<path d="M75.50,432.15 L77.12,432.24 L78.74,432.34 L80.36,432.44 L81.98,432.55 L83.61,432.66 L85.23,432.77 L86.85,432.89 L88.47,433.02 L90.09,433.14 L91.71,433.27 L93.33,433.41 L94.95,433.55 L96.57,433.70 L98.19,433.85 L99.82,434.01 L101.44,434.17 L103.06,434.34 L104.68,434.52 L106.30,434.70 L107.92,434.89 L109.54,435.08 L111.16,435.28 L112.78,435.49 L114.40,435.71 L116.03,435.93 L117.65,436.17 L119.27,436.41 L120.89,436.65 L122.51,436.91 L124.13,437.18 L125.75,437.45 L127.37,437.74 L128.99,438.03 L130.61,438.34 L132.24,438.65 L133.86,438.97 L135.48,439.31 L137.10,439.66 L138.72,440.02 L140.34,440.39 L141.96,440.77 L143.58,441.16 L145.20,441.57 L146.82,441.99 L148.45,442.42 L150.07,442.87 L151.69,443.33 L153.31,443.80 L154.93,444.29 L156.55,444.79 L158.17,445.31 L159.79,445.84 L161.41,446.39 L163.03,446.96 L164.66,447.54 L166.28,448.14 L167.90,448.75 L169.52,449.38 L171.14,450.03 L172.76,450.69 L174.38,451.38 L176.00,452.08 L177.62,452.79 L179.24,453.53 L180.87,454.28 L182.49,455.06 L184.11,455.85 L185.73,456.66 L187.35,457.48 L188.97,458.33 L190.59,459.19 L192.21,460.07 L193.83,460.97 L195.45,461.89 L197.08,462.83 L198.70,463.78 L200.32,464.75 L201.94,465.74 L203.56,466.75 L205.18,467.77 L206.80,468.81 L208.42,469.87 L210.04,470.94 L211.66,472.03 L213.29,473.13 L214.91,474.24 L216.53,475.37 L218.15,476.52 L219.77,477.67 L221.39,478.84 L223.01,480.02 L224.63,481.21 L226.25,482.40 L227.87,483.61 L229.50,484.83 L231.12,486.05 L232.74,487.28 L234.36,488.52 L235.98,489.76 L237.60,491.00 L239.22,492.25 L240.84,493.50 L242.46,494.75 L244.08,496.00 L245.71,497.25 L247.33,498.50 L248.95,499.75 L250.57,500.99 L252.19,502.23 L253.81,503.47 L255.43,504.69 L257.05,505.92 L258.67,507.13 L260.29,508.34 L261.92,509.53 L263.54,510.72 L265.16,511.90 L266.78,513.06 L268.40,514.22 L270.02,515.36 L271.64,516.49 L273.26,517.60 L274.88,518.70 L276.50,519.78 L278.13,520.85 L279.75,521.91 L281.37,522.94 L282.99,523.96 L284.61,524.97 L286.23,525.95 L287.85,526.92 L289.47,527.87 L291.09,528.81 L292.71,529.72 L294.34,530.62 L295.96,531.50 L297.58,532.36 L299.20,533.21 L300.82,534.03 L302.44,534.84 L304.06,535.62 L305.68,536.39 L307.30,537.14 L308.92,537.88 L310.55,538.59 L312.17,539.29 L313.79,539.97 L315.41,540.63 L317.03,541.28 L318.65,541.91 L320.27,542.52 L321.89,543.11 L323.51,543.69 L325.13,544.25 L326.76,544.80 L328.38,545.33 L330.00,545.85 L331.62,546.35 L333.24,546.83" fill="none" stroke="#ff0000" stroke-width="2.4"/>
<polygon points="84.2,440 96.6,419.5 104.4,422 92.3,442.4" fill="#fff"/>
<line x1="84.2" y1="440" x2="96.6" y2="419.5" stroke="#000" stroke-width="2"/>
<line x1="92.3" y1="442.4" x2="104.4" y2="422" stroke="#000" stroke-width="2"/>
<polygon points="85,641.6 97,621 104.3,623.8 92.6,644.2" fill="#fff"/>
<line x1="85" y1="641.6" x2="97" y2="621" stroke="#000" stroke-width="2"/>
<line x1="92.6" y1="644.2" x2="104.3" y2="623.8" stroke="#000" stroke-width="2"/>
<text transform="translate(70.1,656.4) scale(1,1.06)" class="tl">0</text>
<text transform="translate(100.1,656.4) scale(1,1.06)" class="tl">-  </text><g class="o1" transform="translate(100.1,656.4) scale(1,1.06)"><path d="M696,0L515,0L515,1237L197,1010L197,1180L530,1409L696,1409Z" transform="translate(4.99,0.00) scale(0.00732,-0.00732)"/><path d="M696,0L515,0L515,1237L197,1010L197,1180L530,1409L696,1409Z" transform="translate(13.31,0.00) scale(0.00732,-0.00732)"/></g>
<text transform="translate(133.9,656.4) scale(1,1.06)" class="tl">- 0</text><g class="o1" transform="translate(133.9,656.4) scale(1,1.06)"><path d="M696,0L515,0L515,1237L197,1010L197,1180L530,1409L696,1409Z" transform="translate(4.99,0.00) scale(0.00732,-0.00732)"/></g>
<text transform="translate(176.6,656.4) scale(1,1.06)" class="tl">-9</text>
<text transform="translate(212.9,656.4) scale(1,1.06)" class="tl">-8</text>
<text transform="translate(249.8,656.4) scale(1,1.06)" class="tl">-7</text>
<text transform="translate(286.4,656.4) scale(1,1.06)" class="tl">-6</text>
<text transform="translate(323.3,656.4) scale(1,1.06)" class="tl">-5</text>
<text transform="translate(61.3,435.2) scale(1,1.06)" class="tl" text-anchor="end"> 00</text><g class="o1" transform="translate(61.3,435.2) scale(1,1.06)"><path d="M696,0L515,0L515,1237L197,1010L197,1180L530,1409L696,1409Z" transform="translate(-25.00,0.00) scale(0.00732,-0.00732)"/></g>
<text transform="translate(61.1,536.7) scale(1,1.06)" class="tl" text-anchor="end">50</text>
<text transform="translate(65.0,637.2) scale(1,1.06)" class="tl" text-anchor="end">0</text>
<text x="25.6" y="21.7" class="pl">A</text>
<text x="394" y="21.8" class="pl">B</text>
<text x="25.8" y="395.3" class="pl">C</text>
<g filter="url(#sh)">
<text x="179.6" y="40.1" class="ti" textLength="48.2" lengthAdjust="spacingAndGlyphs">MIP- </text><g class="o1b"><path d="M759,0L478,0L478,1170L140,959L140,1180L493,1409L759,1409Z" transform="translate(217.74,40.10) scale(0.00883,-0.00820)"/></g>
<text x="227" y="40.1" font-family="Liberation Serif" font-weight="bold" font-size="18" textLength="12" lengthAdjust="spacingAndGlyphs" fill="#000">α</text>
<text x="547.8" y="42.5" class="ti" textLength="49" lengthAdjust="spacingAndGlyphs">MIP- </text><g class="o1b"><path d="M759,0L478,0L478,1170L140,959L140,1180L493,1409L759,1409Z" transform="translate(586.57,42.50) scale(0.00898,-0.00820)"/></g>
<text x="596.2" y="42.5" font-family="Liberation Serif" font-weight="bold" font-size="18" textLength="9" lengthAdjust="spacingAndGlyphs" fill="#000">β</text>
<text x="169.8" y="394.9" class="ti" style="font-size:18.2px" textLength="73.5" lengthAdjust="spacingAndGlyphs">RANTES</text>
</g>
<text transform="translate(12,227.5) rotate(-90) scale(1,1.06)" class="ax">% Chemokine binding</text>
<text transform="translate(12.8,577) rotate(-90) scale(1,1.06)" class="ax">% Chemokine binding</text>
<text transform="translate(332.5,338) scale(1,1.06)" class="ax">Concentration (M)</text>
<text transform="translate(144.5,678.7) scale(1,1.06)" class="ax">Concentration (M)</text>
<rect x="439.9" y="426" width="191.1" height="150.7" fill="none" stroke="#000" stroke-width="2.1"/><circle cx="467.6" cy="450.6" r="5.4" fill="#ff2600"/><text transform="translate(490.6,455.7) scale(1,1.06)" class="lg">GRL- 0007C</text><g class="o1" transform="translate(490.6,455.7) scale(1,1.06)"><path d="M696,0L515,0L515,1237L197,1010L197,1180L530,1409L696,1409Z" transform="translate(36.51,0.00) scale(0.00747,-0.00747)"/></g><circle cx="467.6" cy="475.4" r="5.4" fill="#4080ff"/><text transform="translate(490.6,479.5) scale(1,1.06)" class="lg">APL</text><circle cx="467.6" cy="498.4" r="5.4" fill="#3a9a70"/><text transform="translate(490.6,502.8) scale(1,1.06)" class="lg">MVC</text><circle cx="467.6" cy="523.1" r="5.4" fill="#ffa200"/><text transform="translate(490.6,527.4) scale(1,1.06)" class="lg">GRL- 00 8C</text><g class="o1" transform="translate(490.6,527.4) scale(1,1.06)"><path d="M696,0L515,0L515,1237L197,1010L197,1180L530,1409L696,1409Z" transform="translate(36.51,0.00) scale(0.00747,-0.00747)"/><path d="M696,0L515,0L515,1237L197,1010L197,1180L530,1409L696,1409Z" transform="translate(62.02,0.00) scale(0.00747,-0.00747)"/></g><circle cx="467.6" cy="547.6" r="5.4" fill="#000000"/><text transform="translate(490.6,552.4) scale(1,1.06)" class="lg">GRL-  7C</text><g class="o1" transform="translate(490.6,552.4) scale(1,1.06)"><path d="M696,0L515,0L515,1237L197,1010L197,1180L530,1409L696,1409Z" transform="translate(36.51,0.00) scale(0.00747,-0.00747)"/><path d="M696,0L515,0L515,1237L197,1010L197,1180L530,1409L696,1409Z" transform="translate(45.01,0.00) scale(0.00748,-0.00747)"/></g>
</svg>
</body></html>
